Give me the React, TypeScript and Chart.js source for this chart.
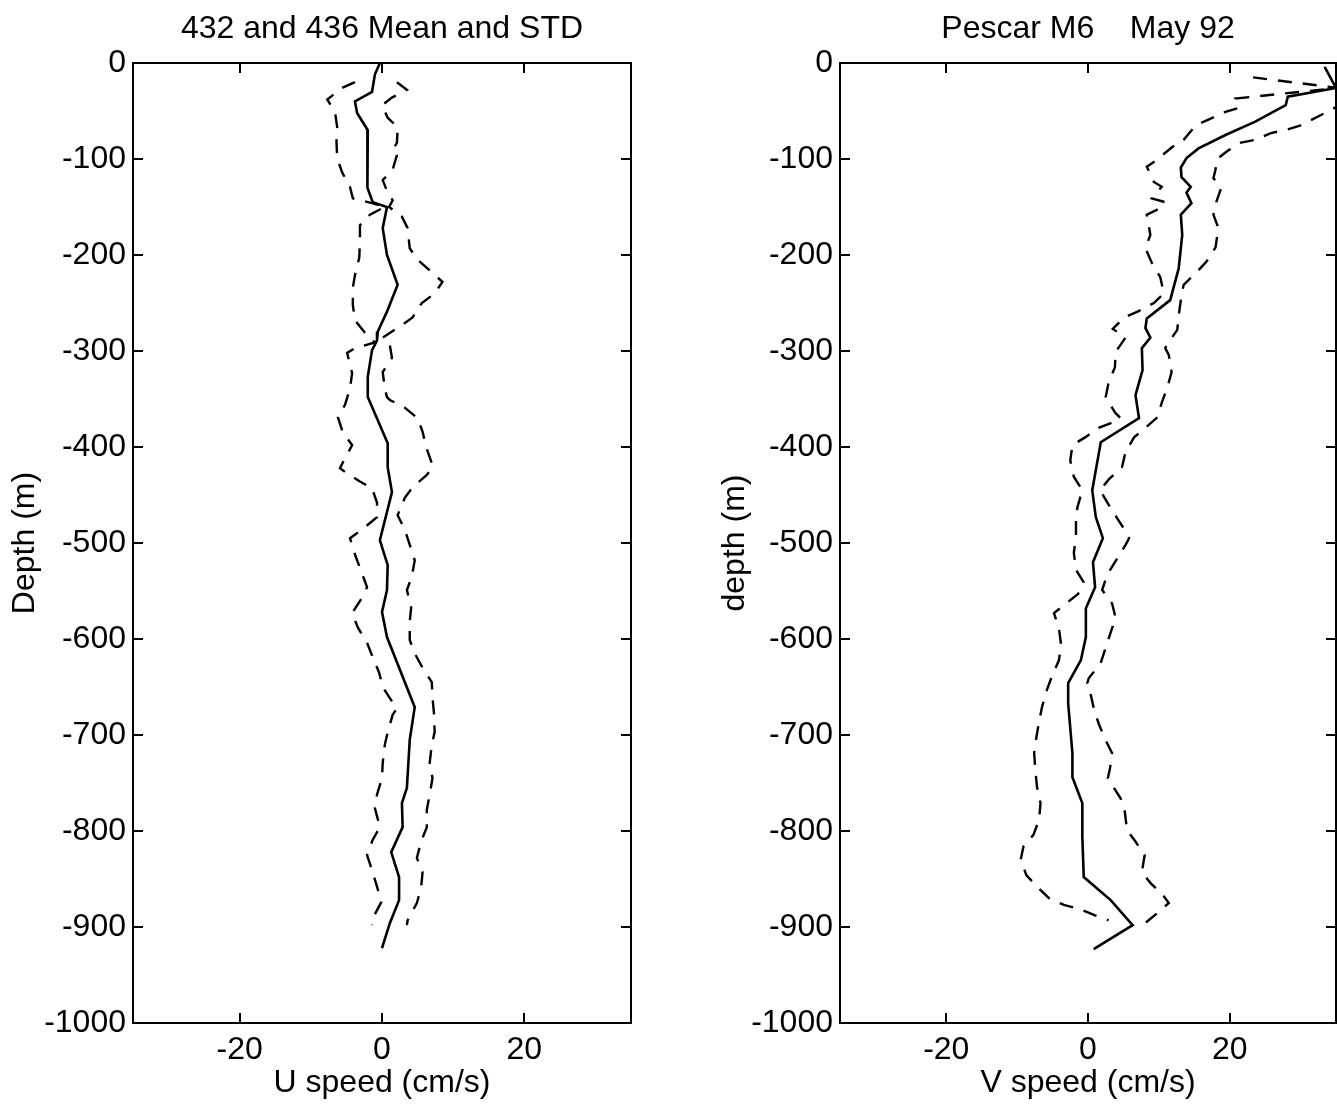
import React, { useEffect, useRef } from 'react';
import { Chart, registerables } from 'chart.js';

Chart.register(...registerables);

const FONT = '"Liberation Sans", Arial, Helvetica, sans-serif';
const FONT_SIZE = 32;

const X_TICKS = [-20, 0, 20];
const Y_MIN = -1000;
const Y_MAX = 0;
const Y_STEP = 100;
const X_MIN = -35;
const X_MAX = 35;

// ---------- Left panel: U speed (432 and 436 Mean and STD) ----------
const U_MEAN_DEPTH = [0, -12, -30, -40, -52, -70, -96, -130, -145, -150, -172, -200, -231, -259, -280, -289, -299, -327, -348, -396, -421, -447, -497, -523, -549, -572, -598, -671, -705, -755, -771, -796, -822, -848, -872, -896, -922];
const U_MEAN = [-0.3, -1, -1.4, -3.8, -3.5, -2, -2, -2.1, -1.3, 0.7, 0.1, 0.7, 2.2, 0.7, -0.6, -0.7, -1.4, -2, -2, 0.8, 0.8, 1.4, -0.3, 0.8, 0.7, 0, 0.7, 4.6, 3.9, 3.5, 2.8, 2.9, 1.3, 2.4, 2.4, 1.1, 0];

const U_LOW_DEPTH = [-20, -26, -38, -51, -67, -82, -99, -114, -129, -141, -146, -150, -158, -169, -186, -203, -221, -234, -252, -268, -281, -291, -297, -302, -323, -339, -356, -369, -385, -398, -416, -422, -426, -436, -443, -458, -473, -486, -495, -512, -526, -546, -557, -573, -588, -604, -619, -635, -650, -666, -672, -679, -697, -710, -729, -745, -762, -776, -796, -809, -825, -841, -858, -874, -891, -898];
const U_LOW = [-3.8, -5.6, -7.7, -6.6, -6.3, -6.4, -6.3, -5.6, -4.5, -4.1, -1.4, 0.4, -1.7, -3.1, -3.1, -3.2, -3.8, -4.1, -4.1, -3.8, -2.4, -1, -3.8, -4.9, -4.2, -4.5, -5.2, -6.2, -5.5, -4.2, -5.5, -5.9, -5.2, -3.1, -1.4, -0.7, -0.7, -2.8, -4.5, -3.8, -3.1, -2.1, -2.8, -4.2, -3.4, -2.1, -1.3, -0.4, 0.1, 1.5, 2.1, 1.5, 0.8, 0.4, 0.1, 0, -0.7, -1, -0.3, -1.3, -2.1, -1.4, -0.7, -0.1, -1.3, -1.4];

const U_HIGH_DEPTH = [-20, -28, -36, -44, -57, -67, -83, -91, -96, -111, -122, -135, -143, -150, -160, -172, -193, -205, -218, -228, -240, -250, -265, -273, -286, -294, -307, -322, -339, -348, -351, -359, -370, -384, -400, -417, -422, -429, -442, -453, -471, -486, -502, -518, -535, -549, -567, -582, -601, -615, -630, -645, -661, -677, -697, -710, -729, -745, -762, -778, -796, -811, -828, -843, -859, -875, -893, -898];
const U_HIGH = [2.1, 3.5, 1.4, 0, 0.8, 2.2, 2.1, 1.5, 2.1, 1.5, 0.1, 0.8, 1.5, 1.0, 2.8, 3.6, 3.9, 5, 7, 8.5, 7.4, 5.6, 4.3, 2.8, 0.1, 1.1, 1.4, 0.1, 0.4, 0.7, 1.1, 3.2, 5, 5.7, 6.2, 7, 7.1, 6.3, 4.3, 3.2, 2.2, 3.2, 3.9, 4.6, 4.2, 3.5, 4.1, 3.9, 3.9, 4.6, 5.7, 7, 7.1, 7.3, 7.4, 7, 6.7, 7.1, 6.7, 6.3, 6.3, 5.5, 4.9, 5.7, 5.5, 4.9, 3.6, 3.5];

// ---------- Right panel: V speed (Pescar M6 May 92) ----------
const V_MEAN_DEPTH = [-4, -26, -35, -44, -61, -75, -89, -99, -109, -119, -129, -135, -146, -158, -179, -214, -247, -266, -276, -286, -297, -320, -346, -370, -395, -445, -473, -495, -520, -546, -568, -598, -622, -646, -667, -719, -744, -771, -806, -848, -872, -898, -923];
const V_MEAN = [33.4, 35, 28.2, 27.9, 23.6, 19.4, 15.6, 13.9, 13.1, 13.2, 14.5, 13.9, 14.6, 13.1, 13.3, 12.8, 11.6, 8.3, 8.1, 8.8, 7.6, 7.7, 6.7, 7.2, 1.8, 0.6, 1.1, 2.1, 0.7, 1, -0.3, -0.3, -1, -2.8, -2.8, -2.2, -2.2, -0.8, -0.8, -0.6, 3.2, 6.3, 0.8];

const V_LOW_DEPTH = [-15, -26, -37, -47, -51, -59, -65, -80, -88, -101, -108, -124, -129, -141, -145, -153, -158, -179, -193, -208, -223, -240, -250, -259, -265, -277, -286, -301, -317, -333, -348, -364, -370, -374, -380, -390, -398, -414, -431, -445, -463, -476, -495, -510, -528, -541, -553, -563, -573, -589, -606, -622, -639, -653, -671, -686, -703, -719, -739, -754, -771, -788, -804, -816, -830, -846, -858, -870, -877, -881, -888, -893];
const V_LOW = [23.3, 35.3, 20.8, 21.2, 19.4, 17, 15.2, 13.5, 11.8, 9.7, 8.3, 9.3, 10.4, 9, 10.9, 9.7, 8.3, 8.8, 8.1, 9, 10.2, 10.7, 9.3, 7, 5.1, 3.5, 5.3, 3.9, 3.8, 2.9, 2.5, 3.8, 4.6, 3.6, 1.5, -0.4, -2.2, -2.5, -2, -0.8, -1.5, -1.7, -1.7, -2, -1.7, -0.6, -1.4, -3.1, -4.8, -4.1, -3.8, -4.1, -5.1, -5.8, -6.5, -6.9, -7.3, -7.6, -7.4, -7.2, -6.7, -6.9, -7.7, -9.1, -9.5, -8.7, -7.2, -5.5, -3.4, -1.3, 1, 2.9];

const V_HIGH_DEPTH = [-15, -35, -46, -56, -65, -70, -73, -80, -83, -91, -99, -103, -111, -120, -130, -145, -158, -172, -192, -207, -219, -231, -242, -263, -278, -294, -297, -304, -322, -338, -354, -369, -380, -390, -405, -421, -434, -445, -460, -474, -490, -495, -502, -520, -533, -549, -563, -578, -593, -609, -625, -641, -646, -655, -672, -688, -704, -719, -735, -745, -750, -766, -780, -799, -811, -825, -843, -854, -866, -875, -886, -897];
const V_HIGH = [42, 40, 35, 32.4, 30, 27.8, 25.8, 23.6, 21.6, 19.8, 18.4, 18.1, 18, 17.7, 18.8, 18.1, 17.7, 18.4, 18, 16.7, 15.2, 13.5, 13.2, 12.8, 12.6, 11.1, 10.9, 11.4, 11.8, 11.2, 10.4, 9.8, 8.1, 6.5, 5.3, 4.8, 2.9, 1.7, 2.9, 4.1, 5.5, 5.8, 5.3, 3.8, 2.7, 2, 3.4, 3.9, 3.2, 2.5, 1.8, 0.1, -0.1, 0.3, 0.8, 1.5, 2.4, 3.4, 3.1, 2.8, 3.2, 4.6, 5.2, 5.5, 6.7, 8, 7.6, 8.8, 10.5, 11.4, 9.7, 7.9];

const zip = (depths: number[], vals: number[]) => depths.map((d, i) => ({ x: vals[i], y: d }));

const framePlugin = {
  id: 'matlabFrame',
  afterDraw(chart: any, _args: any, opts: any) {
    const { ctx, chartArea: a, scales } = chart;
    ctx.save();
    ctx.strokeStyle = '#000';
    ctx.lineWidth = 2;
    ctx.strokeRect(a.left, a.top, a.right - a.left, a.bottom - a.top);
    const tl = 10;
    ctx.beginPath();
    scales.x.ticks.forEach((t: any) => {
      const px = Math.round(scales.x.getPixelForValue(t.value));
      ctx.moveTo(px, a.bottom);
      ctx.lineTo(px, a.bottom - tl);
      ctx.moveTo(px, a.top);
      ctx.lineTo(px, a.top + tl);
    });
    scales.y.ticks.forEach((t: any) => {
      const py = Math.round(scales.y.getPixelForValue(t.value));
      ctx.moveTo(a.left, py);
      ctx.lineTo(a.left + tl, py);
      ctx.moveTo(a.right, py);
      ctx.lineTo(a.right - tl, py);
    });
    ctx.stroke();
    ctx.fillStyle = '#000';
    ctx.font = `${FONT_SIZE}px ${FONT}`;
    ctx.textAlign = 'center';
    ctx.textBaseline = 'middle';
    ctx.fillText(opts.text, (a.left + a.right) / 2, opts.y);
    ctx.restore();
  },
};

type PanelProps = {
  left: number;
  width: number;
  yAxisWidth: number;
  padRight: number;
  yTitlePad: number;
  title: string;
  xTitle: string;
  yTitle: string;
  meanDepth: number[];
  mean: number[];
  lowDepth: number[];
  low: number[];
  highDepth: number[];
  high: number[];
};

function Panel(p: PanelProps) {
  const ref = useRef<HTMLCanvasElement | null>(null);
  useEffect(() => {
    if (!ref.current) return;
    const font = { family: FONT, size: FONT_SIZE };
    const lineBase = { showLine: true, borderColor: '#000', backgroundColor: '#000', pointRadius: 0, fill: false, tension: 0 };
    const chart = new Chart(ref.current, {
      type: 'scatter',
      data: {
        datasets: [
          { ...lineBase, data: zip(p.meanDepth, p.mean), borderWidth: 2.6 },
          { ...lineBase, data: zip(p.lowDepth, p.low), borderWidth: 2.4, borderDash: [14, 11] },
          { ...lineBase, data: zip(p.highDepth, p.high), borderWidth: 2.4, borderDash: [14, 11] },
        ],
      } as any,
      options: {
        animation: false,
        responsive: false,
        maintainAspectRatio: false,
        layout: { padding: { top: 63, right: p.padRight, left: 0, bottom: 0 } },
        plugins: {
          legend: { display: false },
          tooltip: { enabled: false },
          title: { display: false },
          matlabFrame: { text: p.title, y: 29 },
        } as any,
        scales: {
          x: {
            type: 'linear',
            min: X_MIN,
            max: X_MAX,
            afterBuildTicks: (s: any) => {
              s.ticks = X_TICKS.map((v) => ({ value: v }));
            },
            afterFit: (s: any) => {
              s.height = 83;
            },
            grid: { display: false, drawTicks: false },
            border: { display: false },
            ticks: { color: '#000', font, padding: 8, maxRotation: 0, callback: (v: any) => String(v) },
            title: { display: true, text: p.xTitle, color: '#000', font, padding: { top: 0, bottom: 4 } },
          },
          y: {
            type: 'linear',
            min: Y_MIN,
            max: Y_MAX,
            afterFit: (s: any) => {
              s.width = p.yAxisWidth;
            },
            grid: { display: false, drawTicks: false },
            border: { display: false },
            ticks: { color: '#000', font, padding: 7, stepSize: Y_STEP, callback: (v: any) => String(v) },
            title: { display: true, text: p.yTitle, color: '#000', font, padding: { top: p.yTitlePad, bottom: 0 } },
          },
        },
      } as any,
      plugins: [framePlugin],
    });
    return () => chart.destroy();
  }, []);
  return (
    <canvas
      ref={ref}
      width={p.width}
      height={1106}
      style={{ position: 'absolute', left: p.left, top: 0, width: p.width, height: 1106, display: 'block' }}
    />
  );
}

export default function App() {
  return (
    <div style={{ position: 'absolute', left: 0, top: 0, width: 1337, height: 1106, background: '#fff', overflow: 'hidden' }}>
      <Panel
        left={0}
        width={680}
        yAxisWidth={133}
        padRight={49}
        yTitlePad={6}
        title="432 and 436 Mean and STD"
        xTitle="U speed (cm/s)"
        yTitle="Depth (m)"
        meanDepth={U_MEAN_DEPTH}
        mean={U_MEAN}
        lowDepth={U_LOW_DEPTH}
        low={U_LOW}
        highDepth={U_HIGH_DEPTH}
        high={U_HIGH}
      />
      <Panel
        left={680}
        width={657}
        yAxisWidth={160}
        padRight={1}
        yTitlePad={36}
        title="Pescar M6    May 92"
        xTitle="V speed (cm/s)"
        yTitle="depth (m)"
        meanDepth={V_MEAN_DEPTH}
        mean={V_MEAN}
        lowDepth={V_LOW_DEPTH}
        low={V_LOW}
        highDepth={V_HIGH_DEPTH}
        high={V_HIGH}
      />
    </div>
  );
}
